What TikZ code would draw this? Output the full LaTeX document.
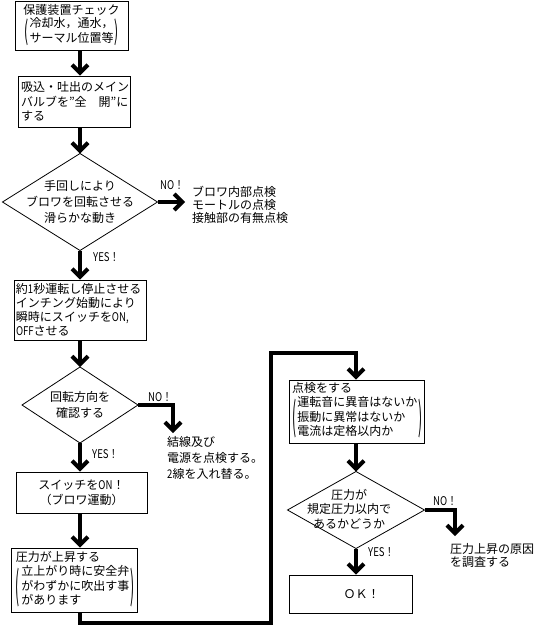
\documentclass[tikz,border=0pt]{standalone}
\usepackage{fontspec}
\usepackage{graphicx}
\setmainfont{Noto Sans CJK JP}
\newfontfamily\cond[FakeStretch=0.8]{Noto Sans CJK JP}
\usetikzlibrary{shapes.geometric,arrows.meta}
\newcommand\pgroup[2]{$\vcenter{\hbox{\scalebox{1}[#1]{(}}}\mkern2mu\vcenter{\hbox{\begin{tabular}{@{}l@{}}#2\end{tabular}}}\mkern2mu\vcenter{\hbox{\scalebox{1}[#1]{)}}}$}
\begin{document}
\begin{tikzpicture}[x=1pt,y=-1pt,
  every node/.style={font=\fontsize{12}{14.5}\selectfont},
  box/.style={draw, line width=0.8pt, inner xsep=3pt, inner ysep=0pt, align=left},
  dia/.style={draw, diamond, line width=0.8pt, inner sep=0pt, outer sep=0pt},
  dtext/.style={align=center, inner sep=0pt},
  txt/.style={inner sep=0pt, align=left, anchor=west},
  lbl/.style={inner sep=0pt, anchor=west, font=\fontsize{12}{14}\selectfont\cond},
  conn/.style={line width=4pt},
  arr/.style={conn, -{Straight Barb[length=8pt,width=16pt]}}
]
\fill[white] (0,0) rectangle (534,626);
\useasboundingbox (0,0) rectangle (534,626);

% left column
\node[box, minimum width=113pt, minimum height=49pt, text width=107pt, align=center] (b1) at (71.5,25.5)
  {保護装置チェック\\[1pt]\pgroup{2.2}{冷却水，通水，\\サーマル位置等}};
\node[box, minimum width=112pt, minimum height=51pt, text width=106pt] (b2) at (74,101.5)
  {吸込・吐出のメイン\\バルブを”全　開”に\\する};
\node[dia, minimum width=155pt, minimum height=97pt] (d1) at (80,202) {};
\node[dtext, font=\fontsize{12}{16}\selectfont] (t1) at (d1.center)
  {手回しにより\\ブロワを回転させる\\滑らかな動き};
\node[box, minimum width=132pt, minimum height=60pt, text width=128pt, inner xsep=2pt, font=\fontsize{12}{14}\selectfont] (b3) at (80,310)
  {約{\cond 1}秒運転し停止させる\\インチング始動により\\瞬時にスイッチを{\cond ON,}\\{\cond OFF}させる};
\node[dia, minimum width=116pt, minimum height=76pt] (d2) at (80,405) {};
\node[dtext, font=\fontsize{12}{16}\selectfont] (t2) at (d2.center) {回転方向を\\確認する};
\node[box, minimum width=131pt, minimum height=41pt, text width=125pt, align=center, font=\fontsize{12}{15}\selectfont] (b4) at (81.5,492.5)
  {スイッチを{\cond ON}！\\（ブロワ運動）};
\node[box, minimum width=126pt, minimum height=64pt, text width=116pt, inner xsep=5pt] (b5) at (74,580)
  {圧力が上昇する\\[2.5pt]\pgroup{3.2}{立上がり時に安全弁\\がわずかに吹出す事\\があります}};

% right column
\node[box, minimum width=135pt, minimum height=63pt, text width=129pt] (b6) at (356.5,411.5)
  {点検をする\\[2pt]\pgroup{3.2}{運転音に異音はないか\\振動に異常はないか\\電流は定格以内か}};
\node[dia, minimum width=137pt, minimum height=77pt] (d3) at (356,510) {};
\node[dtext, font=\fontsize{12}{14.5}\selectfont] (t3) at (349,509) {圧力が\\規定圧力以内で\\あるかどうか};
\node[box, minimum width=123pt, minimum height=38pt, text width=117pt, align=center] (b7) at (350.5,594)
  {\hspace*{22pt}ＯＫ！};

% labels
\node[lbl] (no1) at (160,185) {NO！};
\node[lbl] (yes1) at (93,257) {YES！};
\node[lbl] (no2) at (148,397) {NO！};
\node[lbl] (yes2) at (92,454) {YES！};
\node[lbl] (no3) at (433,501) {NO！};
\node[lbl] (yes3) at (368,552) {YES！};

% side texts
\node[txt, font=\fontsize{12}{13}\selectfont] (r1) at (192,205) {ブロワ内部点検\\モートルの点検\\接触部の有無点検};
\node[txt, font=\fontsize{12}{16}\selectfont] (r2) at (167,458) {結線及び\\電源を点検する。\\{\cond 2}線を入れ替る。};
\node[txt, font=\fontsize{12}{13}\selectfont] (r3) at (450,555.5) {圧力上昇の原因\\を調査する};

% free ends and bends
\coordinate (n1) at (185,202);
\coordinate (n2) at (173,433);
\coordinate (n3) at (455,536);
\coordinate (c1) at (271,623);
\coordinate (c2) at (271,353);

% connectors
\draw[arr] (b1.south -| d1) -- (b2.north -| d1);
\draw[arr] (b2.south -| d1) -- (d1.north);
\draw[arr] (d1.south) -- (b3.north -| d1);
\draw[arr] (b3.south -| d1) -- (d2.north);
\draw[arr] (d2.south) -- (b4.north -| d1);
\draw[arr] (b4.south -| d1) -- (b5.north -| d1);
\draw[arr] (d1.east) -- (n1);
\draw[arr] (d2.east) -| (n2);
\draw[arr] (b5.south -| d1) |- (c1) -- (c2) -| (b6.north -| d3);
\draw[arr] (b6.south -| d3) -- (d3.north);
\draw[arr] (d3.south) -- (b7.north -| d3);
\draw[arr] (d3.east) -| (n3);
\end{tikzpicture}
\end{document}
